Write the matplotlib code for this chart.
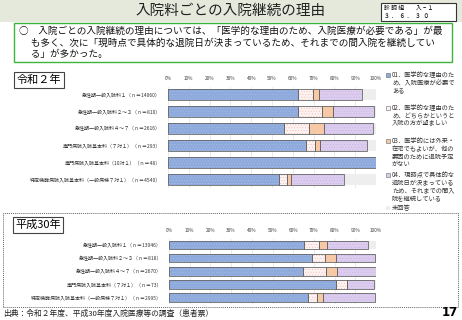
import matplotlib
matplotlib.use("Agg")
import matplotlib.pyplot as plt
from matplotlib import patches
import numpy as np

plt.rcParams['font.family'] = ['Noto Sans CJK JP', 'DejaVu Sans']
plt.rcParams['hatch.linewidth'] = 0.35

W, H = 462, 320

# --- data (percent) ---
r2_labels = ["急性期一般入院料１（ｎ＝14060）",
             "急性期一般入院料２～３（ｎ＝810）",
             "急性期一般入院料４～７（ｎ＝2616）",
             "専門病院入院基本料（７対１）（ｎ＝293）",
             "専門病院入院基本料（10対１）（ｎ＝48）",
             "特定機能病院入院基本料（一般病棟７対１）（ｎ＝4540）"]
r2_q01 = [62.3, 62.5, 55.9, 66.3, 100.0, 53.5]
r2_q02 = [7.2, 11.4, 11.9, 4.4, 0.0, 3.9]
r2_q03 = [3.3, 5.3, 7.4, 2.5, 0.0, 1.7]
r2_q04 = [20.3, 19.8, 23.2, 22.3, 0.0, 25.7]
r2_na = [6.9, 1.0, 1.6, 4.5, 0.0, 15.2]

h30_labels = ["急性期一般入院料１（ｎ＝13046）",
              "急性期一般入院料２～３（ｎ＝818）",
              "急性期一般入院料４～７（ｎ＝2670）",
              "専門病院入院基本料（７対１）（ｎ＝73）",
              "特定機能病院入院基本料（一般病棟７対１）（ｎ＝2995）"]
h30_q01 = [65.2, 69.3, 64.9, 80.8, 67.0]
h30_q02 = [7.1, 6.0, 11.0, 5.4, 4.5]
h30_q03 = [4.2, 5.5, 5.5, 0.0, 2.7]
h30_q04 = [19.7, 18.5, 18.5, 12.6, 25.1]
h30_na = [3.8, 0.7, 0.1, 1.2, 0.7]

legend_labels = ["01．医学的な理由のた\nめ、入院医療が必要で\nある",
                 "02．医学的な理由のた\nめ、どちらかというと\n入院の方が望ましい",
                 "03．医学的には外来・\n在宅でもよいが、他の\n要因のために退院予定\nがない",
                 "04．現時点で具体的な\n退院日が決まっている\nため、それまでの間入\n院を継続している",
                 "未回答"]
tick_labels = ["%d%%" % v for v in range(0, 101, 10)]

# style per segment: face, hatch colour
faces = ["#8eaadc", "#fdf3f1", "#f7c8a6", "#dccdee", "#eeeeee"]
hatch_cols = ["#a9bfe6", "#f0b8b8", None, "#c7b2e6", None]
edges = ["#666666", "#666666", "#666666", "#666666", "none"]


def fx(x):
    return x / W


def fy(y):
    return 1 - y / H


fig = plt.figure(figsize=(W / 100, H / 100), dpi=100)
fig.patch.set_facecolor("white")

# title band
fig.patches.append(patches.Rectangle((0, fy(22)), 1, 22 / H, transform=fig.transFigure,
                                     facecolor="#e5e9dc", edgecolor="none", zorder=0))
fig.text(fx(231), fy(11), "入院料ごとの入院継続の理由", ha="center", va="center",
         fontsize=10.5, color="#222222")
fig.patches.append(patches.Rectangle((fx(381), fy(21)), 75 / W, 18 / H, transform=fig.transFigure,
                                     facecolor="white", edgecolor="#333333", linewidth=0.8))
fig.text(fx(384), fy(8), "診 調 組　　入 − １", ha="left", va="center", fontsize=4.2)
fig.text(fx(384), fy(16), "３ ．  ６ ．  ３  ０", ha="left", va="center", fontsize=4.2)

# summary box
fig.patches.append(patches.Rectangle((fx(14), fy(62)), 438 / W, 39 / H, transform=fig.transFigure,
                                     facecolor="white", edgecolor="#3cb43c", linewidth=1.0))
summary = ("○　入院ごとの入院継続の理由については、「医学的な理由のため、入院医療が必要である」が最\n"
           "　 も多く、次に「現時点で具体的な退院日が決まっているため、それまでの間入院を継続してい\n"
           "　 る」が多かった。")
fig.text(fx(19), fy(26.5), summary, ha="left", va="top", fontsize=6.9, linespacing=1.3,
         color="#111111")


def year_box(x, y, text):
    fig.patches.append(patches.Rectangle((fx(x), fy(y + 16)), 50 / W, 16 / H,
                                         transform=fig.transFigure, facecolor="white",
                                         edgecolor="#444444", linewidth=0.8))
    fig.text(fx(x + 25), fy(y + 8), text, ha="center", va="center", fontsize=8)


def stacked(ax, labels, series):
    y = np.arange(len(labels))
    left = np.zeros(len(labels))
    for vals, fc, hc, ec in zip(series, faces, hatch_cols, edges):
        vals = np.array(vals)
        ax.barh(y, vals, left=left, height=0.66, color=fc, edgecolor="none", zorder=2)
        if hc is not None:
            ax.barh(y, vals, left=left, height=0.66, color="none", edgecolor=hc,
                    hatch="......", linewidth=0, zorder=3)
        if ec != "none":
            ax.barh(y, vals, left=left, height=0.66, color="none", edgecolor=ec,
                    linewidth=0.6, zorder=4)
        left += vals
    ax.set_xlim(0, 100)
    ax.set_ylim(len(labels) - 0.5, -0.5)
    ax.set_yticks(y)
    ax.set_yticklabels(labels, fontsize=3.6, color="#333333")
    ax.set_xticks(np.arange(0, 101, 10))
    ax.set_xticklabels(tick_labels, fontsize=3.4, color="#444444")
    ax.xaxis.tick_top()
    ax.tick_params(length=0, pad=4)
    ax.tick_params(axis="y", pad=5)
    ax.grid(axis="x", color="#e2e2e2", linewidth=0.5, zorder=0)
    for s in ax.spines.values():
        s.set_visible(False)


# Reiwa 2
year_box(14, 72, "令和２年")
ax1 = fig.add_axes([fx(168), fy(187.5), 208 / W, (187.5 - 86.5) / H])
stacked(ax1, r2_labels, [r2_q01, r2_q02, r2_q03, r2_q04, r2_na])

# Heisei 30 section with dotted border
fig.patches.append(patches.Rectangle((fx(3), fy(307)), 455 / W, 94 / H, transform=fig.transFigure,
                                     facecolor="none", edgecolor="#666666", linewidth=0.7,
                                     linestyle=(0, (1, 1))))
year_box(13, 217, "平成30年")
ax2 = fig.add_axes([fx(169), fy(304), 207 / W, (304 - 238.5) / H])
stacked(ax2, h30_labels, [h30_q01, h30_q02, h30_q03, h30_q04, h30_na])

# legend
leg_y = [75, 108, 141, 175, 208]
for lab, y0, fc, ec in zip(legend_labels, leg_y, faces, edges):
    fig.patches.append(patches.Rectangle((fx(386), fy(y0 + 2)), 4 / W, 4 / H,
                                         transform=fig.transFigure, facecolor=fc,
                                         edgecolor="#666666" if ec != "none" else "none",
                                         linewidth=0.4))
    fig.text(fx(392), fy(y0 - 3.5), lab, ha="left", va="top", fontsize=4.5,
             linespacing=0.93, color="#333333")

# footer
fig.text(fx(3), fy(314), "出典：令和２年度、平成30年度入院医療等の調査（患者票）", ha="left",
         va="center", fontsize=5.6, color="#222222")
fig.text(fx(458), fy(313), "17", ha="right", va="center", fontsize=8.5, fontweight="bold",
         family=["DejaVu Sans"])

fig.savefig("out.png", dpi=100)
